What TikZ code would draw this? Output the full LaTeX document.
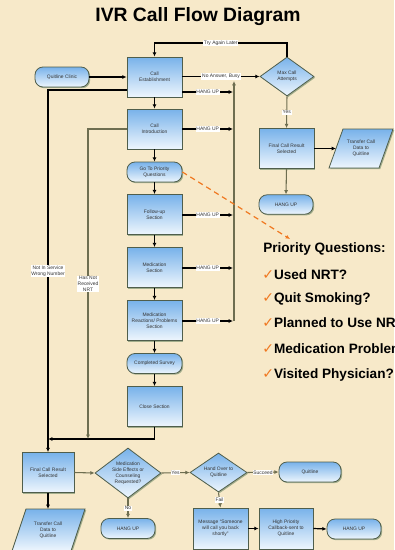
\documentclass[tikz,border=0pt]{standalone}
\usepackage{fontspec}
\setmainfont{Liberation Sans}
\newfontfamily\dejavu{DejaVu Sans}
\usetikzlibrary{arrows.meta,shapes.geometric,shadows}
\definecolor{bg}{HTML}{F7E9C9}
\definecolor{boxtop}{HTML}{78B2EA}
\definecolor{boxbot}{HTML}{EEF6FD}
\definecolor{border}{HTML}{4F5E4C}
\definecolor{shadowc}{HTML}{A3AE8C}
\definecolor{olivec}{HTML}{6E6E50}
\definecolor{orangec}{HTML}{F07820}
\definecolor{txt}{HTML}{333333}
\newcommand{\chk}{{\dejavu\color{orangec}\mdseries\fontsize{10.5}{12}\selectfont ✓}}
\begin{document}
\begin{tikzpicture}[x=0.75pt,y=-0.75pt,
 base/.style={draw=border, line width=0.6pt, top color=boxtop, bottom color=boxbot,
   drop shadow={shadow xshift=0.9pt,shadow yshift=-0.9pt,fill=shadowc,opacity=1},
   font=\fontsize{3.7}{4.4}\selectfont, text=txt, align=center, inner sep=1pt},
 proc/.style={base, rectangle, minimum width=41.25pt, minimum height=30pt},
 term/.style={base, rectangle, rounded corners=6pt, minimum width=41.25pt, minimum height=15pt},
 dia/.style={base, diamond, inner sep=0pt, shape aspect=1.4},
 lab/.style={fill=white, inner sep=0.6pt, font=\fontsize{3.7}{4.4}\selectfont, text=txt, align=center},
 ptxt/.style={font=\fontsize{3.7}{4.4}\selectfont, text=txt, align=center},
 blk/.style={draw=black, line width=0.9pt},
 ol/.style={draw=olivec, line width=0.8pt},
 arr/.style={-{Latex[length=3.2pt,width=3pt]}},
 pq/.style={font=\fontsize{10.2}{12}\selectfont\bfseries, anchor=west, inner sep=0pt}
]
\useasboundingbox (0,0) rectangle (394,550);
\clip (0,0) rectangle (394,550);
\fill[bg] (0,0) rectangle (394,550);

% title
\node[font=\fontsize{14.5}{16}\selectfont\bfseries] (title) at (198,17) {IVR Call Flow Diagram};

% main column
\node[proc] (CE) at (154.5,77) {Call\\Establishment};
\node[proc] (CI) at (154.5,129) {Call\\Introduction};
\node[term] (GP) at (154.5,172) {Go To Priority\\Questions};
\node[proc] (FU) at (154.5,214.5) {Follow-up\\Section};
\node[proc] (MS) at (154.5,267.5) {Medication\\Section};
\node[proc] (MR) at (154.5,320.5) {Medication\\Reactions/ Problems\\Section};
\node[term] (CS) at (154.5,363.5) {Completed Survey};
\node[proc] (CL) at (154.5,406.5) {Close Section};
\node[term, minimum width=40.5pt] (QC) at (62,77) {Quitline Clinic};

% right top
\node[dia, minimum width=40.5pt, minimum height=29.25pt] (MCA) at (287,76.5) {Max Call\\Attempts};
\node[proc] (FR1) at (286.5,148.5) {Final Call Result\\Selected};
\path[base] (329,168) -- (343,129) -- (393,129) -- (379,168) -- cycle;
\node[ptxt] (TR1) at (361,148.5) {Transfer Call\\Data to\\Quitline};
\coordinate (tr1l) at (336,148.5);
\node[term, minimum width=40.5pt, minimum height=14.5pt] (HU1) at (286,204.5) {HANG UP};

% bottom
\node[proc, minimum width=39pt] (FR2) at (48,472.5) {Final Call Result\\Selected};
\path[base] (12,551) -- (26,509) -- (85,509) -- (71,551) -- cycle;
\node[ptxt] (TR2) at (48,530) {Transfer Call\\Data to\\Quitline};
\coordinate (tr2t) at (55.5,509);
\node[dia, minimum width=49.5pt, minimum height=37.5pt] (MSE) at (128,473) {Medication\\Side Effects or\\Counseling\\Requested?};
\node[term, minimum width=40.5pt] (HU2) at (128,528.5) {HANG UP};
\node[dia, minimum width=42.75pt, minimum height=29.25pt] (HO) at (218.5,472.5) {Hand Over to\\Quitline};
\node[term, minimum width=46.5pt] (QL) at (310,472) {Quitline};
\node[proc, minimum height=30.75pt] (MSG) at (220.5,528.5) {Message ``Someone\\will call you back\\shortly''};
\node[proc, minimum width=40.5pt, minimum height=30.75pt] (HP) at (286,528.5) {High Priority\\Callback-sent to\\Quitline};
\node[term, minimum width=40.5pt] (HU3) at (354,529) {HANG UP};

% priority questions
\node[pq] (PQ) at (263,249) {Priority Questions:};
\node[pq] (P1) at (262,275) {\chk Used NRT?};
\node[pq] (P2) at (262,299) {\chk Quit Smoking?};
\node[pq] (P3) at (262,323) {\chk Planned to Use NRT?};
\node[pq] (P4) at (262,349) {\chk Medication Problems?};
\node[pq] (P5) at (262,375) {\chk Visited Physician?};

% coordinates
\coordinate (j1) at (48,90);
\coordinate (j2) at (88,129);
\coordinate (j3) at (88,439);
\coordinate (j4) at (48,439);
\coordinate (ta) at (287,43);
\coordinate (tb) at (154.5,43);
\coordinate (h1) at (233,92);
\coordinate (h2) at (233,129);
\coordinate (h3) at (233,215);
\coordinate (h4) at (233,268);
\coordinate (h5) at (233,321);
\coordinate (hub) at (234,321);
\coordinate (hubtop) at (234,81);
\coordinate (pqt) at (290,239);

% main flow
\draw[blk,arr] (QC) -- (CE);
\draw[blk,arr] (CE) -- (CI);
\draw[blk,arr] (CI) -- (GP);
\draw[blk,arr] (GP) -- (FU);
\draw[blk,arr] (FU) -- (MS);
\draw[blk,arr] (MS) -- (MR);
\draw[blk,arr] (MR) -- (CS);
\draw[blk,arr] (CS) -- (CL);
\draw[blk,arr] (CL.south) |- (j4);
\draw[blk,arr] (CE.west |- j1) -- (j1) -- node[lab]{Not In Service\\Wrong Number} (FR2.north);
\draw[ol,arr] (CI.west |- j2) -- (j2) -- node[lab]{Has Not\\Received\\NRT} (j3);

% top right
\draw[blk,arr] (MCA.north) -- (ta) -- node[lab]{Try Again Later} (tb) -- (CE.north);
\draw[blk,arr] (CE.east |- MCA.west) -- node[lab]{No Answer, Busy} (MCA.west);
\draw[blk,arr] (CE.east |- h1) -- node[lab]{HANG UP} (h1);
\draw[blk,arr] (CI.east |- h2) -- node[lab]{HANG UP} (h2);
\draw[blk,arr] (FU.east |- h3) -- node[lab]{HANG UP} (h3);
\draw[blk,arr] (MS.east |- h4) -- node[lab]{HANG UP} (h4);
\draw[blk,arr] (MR.east |- h5) -- node[lab]{HANG UP} (h5);
\draw[ol,arr] (hub) -- (hubtop);
\draw[ol,arr] (MCA.south) -- node[lab]{Yes} (FR1.north);
\draw[blk,arr] (FR1.east) -- (tr1l);
\draw[ol,arr] (FR1.south) -- (HU1.north);
\draw[orangec, line width=0.9pt, dash pattern=on 4pt off 3pt, arr] (GP.east) -- (pqt);

% bottom
\draw[blk,arr] (FR2.south) -- (FR2.south |- tr2t);
\draw[ol,arr] (FR2.east) -- (MSE.west);
\draw[ol,arr] (MSE.south) -- node[lab]{No} (HU2.north);
\draw[ol,arr] (MSE.east) -- node[lab]{Yes} (HO.west);
\draw[ol,arr] (HO.east) -- node[lab]{Succeed} (QL.west);
\draw[ol,arr] (HO.south) -- node[lab]{Fail} (MSG.north);
\draw[blk,arr] (MSG.east) -- (HP.west);
\draw[blk,arr] (HP.east) -- (HU3.west);
\end{tikzpicture}
\end{document}
